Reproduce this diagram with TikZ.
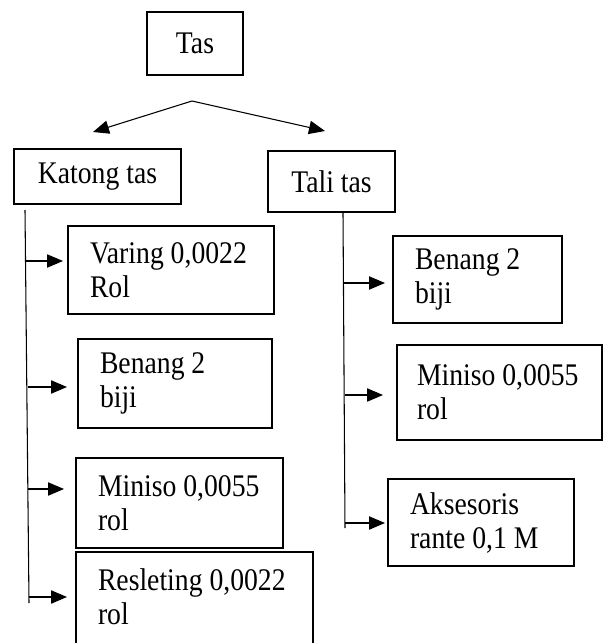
\documentclass[tikz,border=0pt]{standalone}
\usepackage{fontspec}
\setmainfont[FakeStretch=0.88,WordSpace=0.75]{Liberation Serif}
\usetikzlibrary{arrows.meta}
\newcommand\nbsp{\nobreak\hskip0.22em\relax}
\begin{document}
\begin{tikzpicture}[x=0.75pt,y=-0.75pt,
  box/.style={draw, line width=1.5pt, inner sep=0pt,
    font=\fontsize{23.6}{25.5}\selectfont},
  itembox/.style={box, align=left},
  thin/.style={line width=0.8pt},
  arr/.style={thin, -{Triangle[length=12pt,width=10pt]}}]
\useasboundingbox (0,0) rectangle (605,643);

% top level
\node[box, minimum width=72pt, minimum height=47.25pt] (tas) at (195,43.5) {Tas};
\node[box, minimum width=125.25pt, minimum height=41.25pt] (katong) at (97.5,176.5) {Katong\nbsp tas};
\node[box, minimum width=95.25pt, minimum height=45.75pt] (tali) at (331.5,181.5) {Tali\nbsp tas};

\coordinate (apex) at (192,101);
\coordinate (tipL) at (93,132);
\coordinate (tipR) at (325,131);
\draw[arr] (apex) -- (tipL);
\draw[arr] (apex) -- (tipR);

% left items
\node[itembox, text width=121.5pt, inner xsep=16.5pt, minimum height=66pt] (varing) at (171,270) {Varing\nbsp 0,0022\\Rol};
\node[itembox, text width=112.5pt, inner xsep=16.5pt, minimum height=66.75pt] (benangL) at (175,383.5) {Benang\nbsp 2\\biji};
\node[itembox, text width=122.25pt, inner xsep=16.5pt, minimum height=67.5pt] (minisoL) at (179.5,503) {Miniso\nbsp 0,0055\\rol};
\node[itembox, draw=none, text width=144.75pt, inner xsep=15.75pt, minimum height=66pt] (res) at (194.5,597) {Resleting\nbsp 0,0022\\rol};
\draw[line width=1.5pt] (res.west |- 0,660) -- (res.north west) -- (res.north east) -- (res.east |- 0,660);

% left trunk
\coordinate (l0) at (25,210);
\coordinate (l1) at (29,603);
\draw[thin] (l0) -- (l1);
\coordinate (la) at (26,261);  \coordinate (ta) at (63,261);
\coordinate (lb) at (27.5,387); \coordinate (tb) at (67,387);
\coordinate (lc) at (28,489);  \coordinate (tc) at (64,489);
\coordinate (ld) at (29,597);  \coordinate (td) at (67,597);
\draw[arr] (la) -- (ta);
\draw[arr] (lb) -- (tb);
\draw[arr] (lc) -- (tc);
\draw[arr] (ld) -- (td);

% right items
\node[itembox, text width=93.75pt, inner xsep=16.5pt, minimum height=65.25pt] (benangR) at (477.5,279.5) {Benang\nbsp 2\\biji};
\node[itembox, text width=123.75pt, inner xsep=15pt, minimum height=71.25pt] (minisoR) at (499.5,392.5) {Miniso\nbsp 0,0055\\rol};
\node[itembox, text width=106.5pt, inner xsep=16.5pt, minimum height=65.25pt] (aks) at (481,522.5) {Aksesoris\\rante\nbsp 0,1\nbsp M};

% right trunk
\coordinate (r0) at (343,213);
\coordinate (r1) at (345,528);
\draw[thin] (r0) -- (r1);
\coordinate (ra) at (344,283);  \coordinate (sa) at (385,283);
\coordinate (rb) at (344.5,395); \coordinate (sb) at (383,395);
\coordinate (rc) at (345,523);  \coordinate (sc) at (385,523);
\draw[arr] (ra) -- (sa);
\draw[arr] (rb) -- (sb);
\draw[arr] (rc) -- (sc);
\end{tikzpicture}
\end{document}
